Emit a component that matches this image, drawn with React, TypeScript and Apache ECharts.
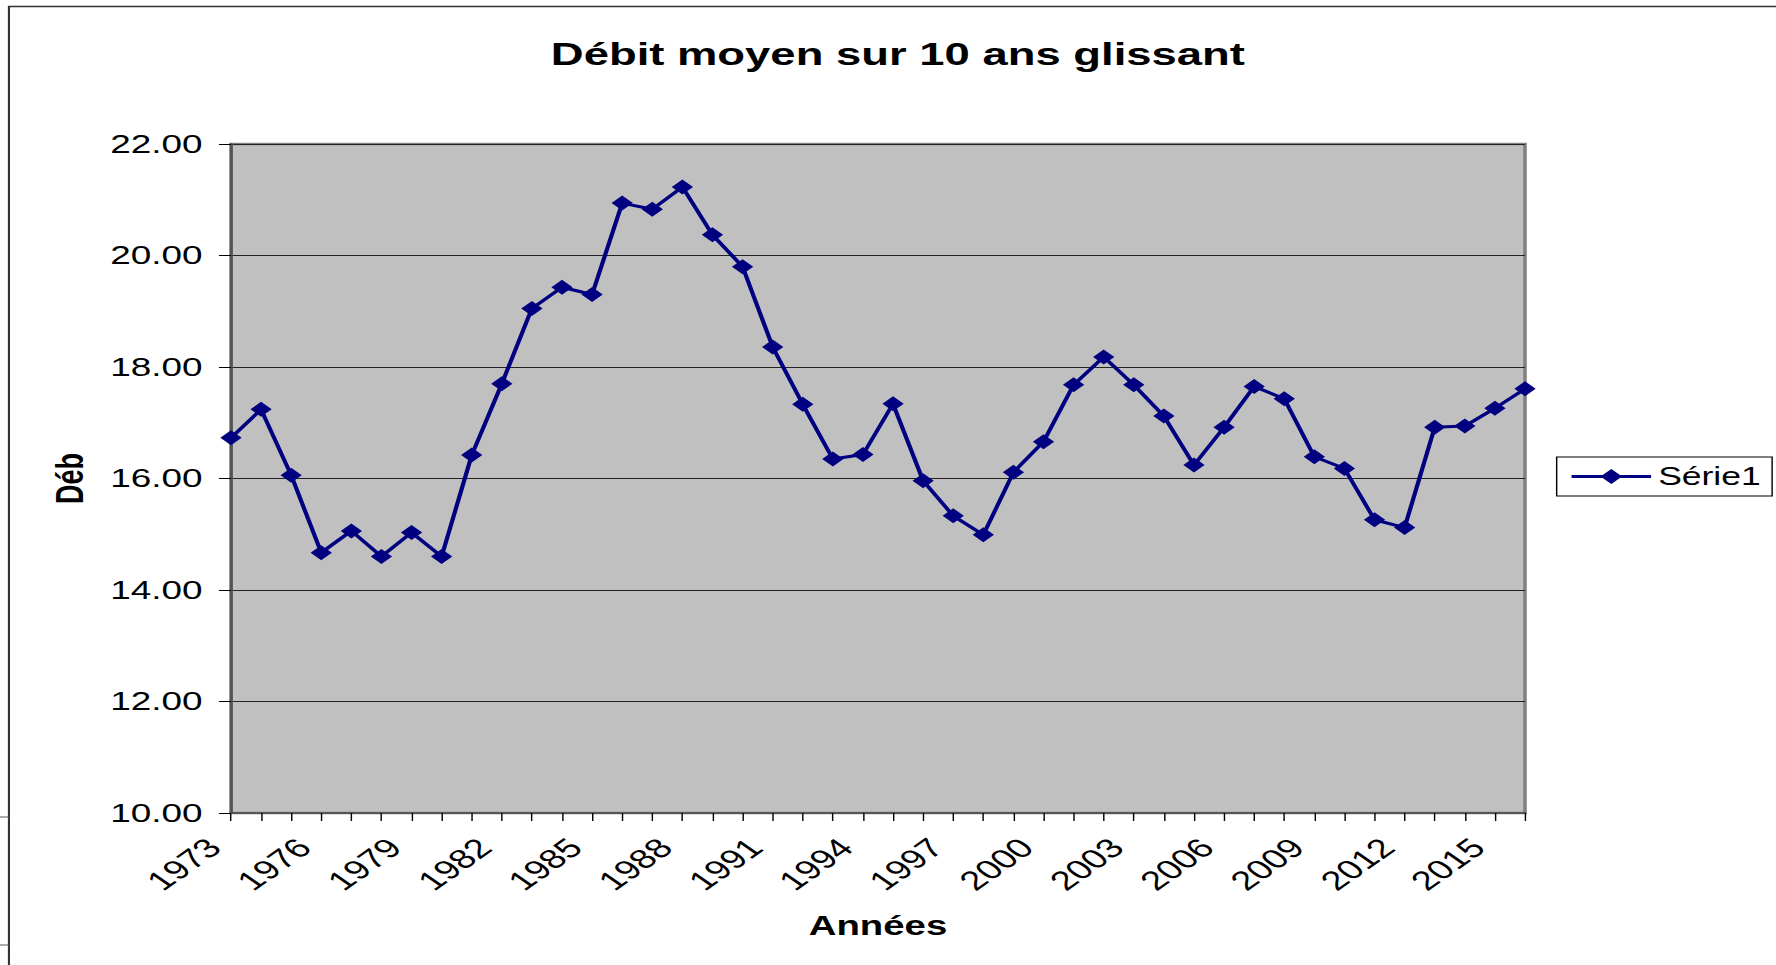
import React, { useEffect, useRef } from "react";
import * as echarts from "echarts";

const years = [
  "1973", "1974", "1975", "1976", "1977", "1978", "1979", "1980", "1981", "1982",
  "1983", "1984", "1985", "1986", "1987", "1988", "1989", "1990", "1991", "1992",
  "1993", "1994", "1995", "1996", "1997", "1998", "1999", "2000", "2001", "2002",
  "2003", "2004", "2005", "2006", "2007", "2008", "2009", "2010", "2011", "2012",
  "2013", "2014", "2015", "2016",
];

const debit = [
  16.73, 17.24, 16.06, 14.67, 15.06, 14.6, 15.03, 14.6, 16.42, 17.7,
  19.05, 19.43, 19.3, 20.94, 20.83, 21.23, 20.37, 19.8, 18.36, 17.33,
  16.35, 16.43, 17.34, 15.96, 15.33, 14.99, 16.11, 16.66, 17.68, 18.18,
  17.68, 17.12, 16.24, 16.92, 17.65, 17.43, 16.39, 16.18, 15.26, 15.12,
  16.92, 16.94, 17.26, 17.61,
];

const titleText = "Débit moyen sur 10 ans glissant";
const xName = "Années";
const yName = "Déb";
const seriesName = "Série1";
const yMin = 10;
const yMax = 22;
const yStep = 2;

const FONT = '"Liberation Sans", Arial, Helvetica, sans-serif';
const INNER_W = 1251;
const H = 965;
const SX = 1776 / INNER_W;

export default function App() {
  const ref = useRef<HTMLDivElement>(null);

  useEffect(() => {
    document.body.style.margin = "0";
    document.body.style.overflow = "hidden";
    if (!ref.current) return;
    const chart = echarts.init(ref.current, null, { renderer: "svg" });
    chart.setOption({
      animation: false,
      backgroundColor: "#ffffff",
      title: {
        text: titleText,
        left: 388,
        top: 37.5,
        padding: 0,
        textStyle: { fontSize: 32, fontWeight: "bold", color: "#000", fontFamily: FONT },
      },
      legend: {
        left: 1096.5,
        top: 457,
        orient: "horizontal",
        padding: [7, 8, 7, 9],
        borderColor: "#000",
        borderWidth: 1,
        itemWidth: 56,
        itemHeight: 19,
        itemGap: 5,
        lineStyle: { width: 3, color: "#000080" },
        itemStyle: { color: "#000080" },
        textStyle: { fontSize: 25, color: "#000", fontFamily: FONT },
        data: [seriesName],
      },
      grid: {
        left: 162.7,
        right: 176.8,
        top: 144,
        bottom: 152,
        show: true,
        backgroundColor: "#c0c0c0",
        borderColor: "#808080",
        borderWidth: 2.5,
        containLabel: false,
      },
      xAxis: {
        type: "category",
        data: years,
        boundaryGap: false,
        name: xName,
        nameLocation: "middle",
        nameGap: 99.5,
        nameTextStyle: { fontSize: 27, fontWeight: "bold", color: "#000", fontFamily: FONT },
        axisLine: { show: true, lineStyle: { color: "#555", width: 2 } },
        axisTick: { show: true, interval: 0, length: 8, lineStyle: { color: "#000", width: 1 } },
        axisLabel: {
          interval: 2,
          rotate: 45,
          margin: 18,
          padding: [0, 17, 0, 0],
          fontSize: 27,
          color: "#000",
          fontFamily: FONT,
        },
        splitLine: { show: false },
      },
      yAxis: {
        type: "value",
        min: yMin,
        max: yMax,
        interval: yStep,
        name: yName,
        nameLocation: "middle",
        nameRotate: 90,
        nameGap: 100,
        nameTextStyle: { fontSize: 27, fontWeight: "bold", color: "#000", fontFamily: FONT },
        axisLine: { show: true, lineStyle: { color: "#555", width: 2 } },
        axisTick: { show: true, length: 8.5, lineStyle: { color: "#000", width: 1 } },
        axisLabel: {
          margin: 20,
          fontSize: 26,
          color: "#000",
          fontFamily: FONT,
          formatter: (v: number) => v.toFixed(2),
        },
        splitLine: { show: true, lineStyle: { color: "#222", width: 1 } },
      },
      graphic: [
        {
          type: "rect",
          silent: true,
          z: -10,
          shape: { x: 6.3, y: 6.5, width: 3000, height: 3000 },
          style: { fill: "none", stroke: "#333", lineWidth: 1.5 },
        },
        {
          type: "line",
          silent: true,
          shape: { x1: 0, y1: 817, x2: 6.3, y2: 817 },
          style: { stroke: "#555", lineWidth: 1 },
        },
        {
          type: "line",
          silent: true,
          shape: { x1: 0, y1: 945, x2: 6.3, y2: 945 },
          style: { stroke: "#555", lineWidth: 1 },
        },
      ],
      series: [
        {
          name: seriesName,
          type: "line",
          data: debit,
          symbol: "diamond",
          symbolSize: [15, 15],
          showAllSymbol: true,
          lineStyle: { color: "#000080", width: 3 },
          itemStyle: { color: "#000080" },
        },
      ],
    });
    return () => chart.dispose();
  }, []);

  return (
    <div
      ref={ref}
      style={{
        width: INNER_W,
        height: H,
        transform: `scaleX(${SX})`,
        transformOrigin: "0 0",
      }}
    />
  );
}
